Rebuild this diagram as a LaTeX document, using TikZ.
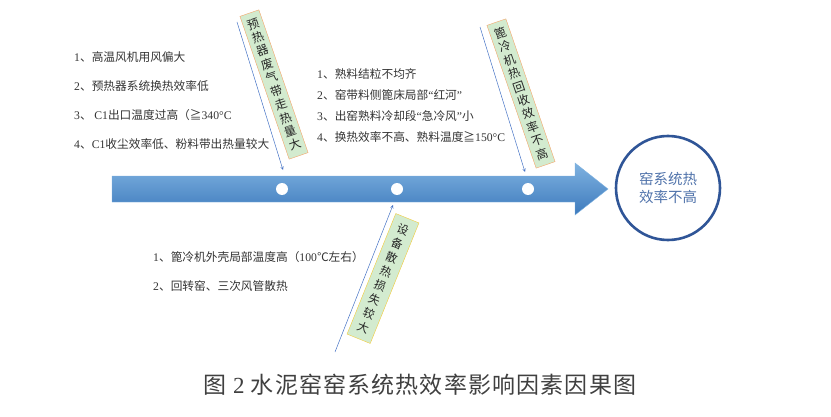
\documentclass[tikz,border=0pt]{standalone}
\usepackage{fontspec}
\setmainfont{Noto Sans CJK SC}
\newfontfamily\en{Liberation Serif}
\usetikzlibrary{arrows,shapes,positioning}
\definecolor{spinetop}{HTML}{7FB2E0}
\definecolor{spinebot}{HTML}{3D7ABD}
\definecolor{ring}{HTML}{2F5597}
\definecolor{ringtext}{HTML}{4F72AA}
\definecolor{boxfill}{HTML}{D3EBCF}
\definecolor{orangeline}{HTML}{F4A56A}
\definecolor{yellowline}{HTML}{F2CB3A}
\definecolor{causeline}{HTML}{4472C4}
\tikzset{
  x=1pt, y=1pt,
  all/.style  = {align=center},
  basic/.style  = {all, draw, thin, fill=boxfill, rectangle, font=\fontsize{12}{14.2}\selectfont, text=black!85, inner xsep=3.5pt, minimum width=20pt},
  hot/.style   = {basic, draw=orangeline, minimum height=151pt},
  loss/.style   = {basic, draw=yellowline, font=\fontsize{11.6}{15.2}\selectfont, minimum width=25pt, minimum height=130pt},
  item/.style = {anchor=west, inner sep=0pt, text height=9pt, text depth=2.5pt, font=\fontsize{11.7}{13}\selectfont, text=black!80},
  dot/.style = {circle, fill=white, inner sep=0pt, minimum size=12pt},
  link/.style = {->, >=stealth, causeline, line width=0.5pt},
  effect/.style = {all, circle, draw=ring, line width=2.6pt, minimum size=104pt, text=ringtext, font=\fontsize{14.5}{18}\selectfont}
}

\begin{document}
\begin{tikzpicture}
\useasboundingbox (0,0) rectangle (831,416);

% the spine, an arrow towards the effect
\shade[top color=spinetop, bottom color=spinebot, draw=spinetop, line width=0.4pt]
  (112,214) -- (575,214) -- (575,201) -- (608,227) -- (575,253) -- (575,240) -- (112,240) -- cycle;
\node[dot] (d1) at (282,227) {};
\node[dot] (d2) at (397,227) {};
\node[dot] (d3) at (528,227) {};

% the effect
\node[effect] (effect) at (668,228) {窑系统热\\效率不高};

% the causes
\node[hot, rotate=19] (c1) at (274,331.5) {预\\热\\器\\废\\气\\带\\走\\热\\量\\大};
\node[hot, rotate=19] (c2) at (521,322.5) {篦\\冷\\机\\热\\回\\收\\效\\率\\不\\高};
\node[loss, rotate=-22] (c3) at (383,137.5) {设\\备\\散\\热\\损\\失\\较\\大};

\coordinate (s1) at (237,394);
\coordinate (e1) at (283,246);
\coordinate (s2) at (480,389);
\coordinate (e2) at (525,244);
\coordinate (s3) at (335,64);
\coordinate (e3) at (393,211);
\draw[link] (s1) -- (e1);
\draw[link] (s2) -- (e2);
\draw[link] (s3) -- (e3);

% the reasons, first cause
\node[item] (h1) at (74,358) {{\en 1}、高温风机用风偏大};
\node[item, below=29pt of h1.west, anchor=west] (h2) {{\en 2}、预热器系统换热效率低};
\node[item, below=29pt of h2.west, anchor=west] (h3) {{\en 3}、\ {\en C1}出口温度过高（≧{\en 340°C}};
\node[item, below=29pt of h3.west, anchor=west] (h4) {{\en 4}、{\en C1}收尘效率低、粉料带出热量较大};

% second cause
\node[item] (k1) at (317,341) {{\en 1}、熟料结粒不均齐};
\node[item, below=21pt of k1.west, anchor=west] (k2) {{\en 2}、窑带料侧篦床局部{\en “}红河{\en ”}};
\node[item, below=21pt of k2.west, anchor=west] (k3) {{\en 3}、出窑熟料冷却段{\en “}急冷风{\en ”}小};
\node[item, below=21pt of k3.west, anchor=west] (k4) {{\en 4}、换热效率不高、熟料温度≧{\en 150°C}};

% third cause
\node[item] (l1) at (153,158) {{\en 1}、篦冷机外壳局部温度高（{\en 100}℃左右）};
\node[item, below=29pt of l1.west, anchor=west] (l2) {{\en 2}、回转窑、三次风管散热};

% caption
\node[font=\fontsize{23}{26}\selectfont\addfontfeature{LetterSpace=5}, text=black!75] (caption) at (420,31) {图 {\en 2} 水泥窑窑系统热效率影响因素因果图};
\end{tikzpicture}
\end{document}
